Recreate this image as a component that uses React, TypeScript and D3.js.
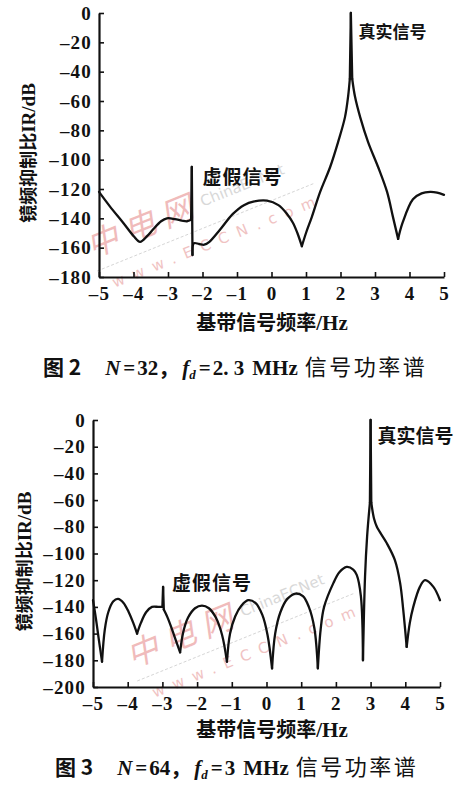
import { useEffect, useRef } from "react";
import * as d3 from "d3";

type Pt = [number, number];

// x ticks shared by both panels
const freqTicks = [-5, -4, -3, -2, -1, 0, 1, 2, 3, 4, 5];
const fig2DbTicks = [0, -20, -40, -60, -80, -100, -120, -140, -160, -180];
const fig3DbTicks = [0, -20, -40, -60, -80, -100, -120, -140, -160, -180, -200];

// 图2 N=32, fd=2.3MHz — split at cusps / spikes
const fig2Segments: Pt[][] = [
  [[-5, -122], [-4.68, -132], [-4.3, -143], [-4.0, -152], [-3.81, -156], [-3.6, -152], [-3.43, -147.5], [-3.2, -142], [-3.03, -140], [-2.8, -140.5], [-2.6, -141.5], [-2.45, -142], [-2.33, -141]],
  [[-2.33, -141], [-2.31, -105]],
  [[-2.31, -105], [-2.29, -165]],
  [[-2.29, -165], [-2.25, -157], [-2.1, -157.5], [-1.95, -158], [-1.8, -156], [-1.5, -148], [-1.12, -137], [-0.8, -131], [-0.5, -128.5], [-0.13, -128], [0.2, -131], [0.45, -137], [0.62, -143], [0.75, -150], [0.88, -159]],
  [[0.88, -159], [1.0, -150], [1.17, -139], [1.41, -122], [1.7, -105], [1.93, -88], [2.13, -71], [2.22, -57], [2.27, -45]],
  [[2.27, -45], [2.3, 0]],
  [[2.3, 0], [2.34, -45]],
  [[2.34, -45], [2.42, -57], [2.57, -71], [2.8, -88], [3.09, -105], [3.35, -122], [3.52, -139], [3.67, -154]],
  [[3.67, -154], [3.8, -143], [4.1, -127], [4.35, -123], [4.6, -122], [4.8, -122.5], [5, -124]],
];

// 图3 N=64, fd=3MHz
const fig3Segments: Pt[][] = [
  [[-5, -135], [-4.92, -148], [-4.84, -163], [-4.74, -181]],
  [[-4.74, -181], [-4.66, -157], [-4.56, -144], [-4.42, -136], [-4.28, -134], [-4.12, -137], [-3.97, -144], [-3.84, -152], [-3.73, -160]],
  [[-3.73, -160], [-3.62, -152], [-3.47, -144], [-3.3, -140], [-3.12, -140], [-3.0, -140]],
  [[-3.0, -140], [-2.98, -125]],
  [[-2.98, -125], [-2.96, -142]],
  [[-2.96, -142], [-2.85, -148], [-2.72, -157], [-2.6, -166], [-2.49, -174]],
  [[-2.49, -174], [-2.4, -159], [-2.26, -148], [-2.06, -141], [-1.86, -139], [-1.66, -141], [-1.46, -148], [-1.28, -161], [-1.14, -181]],
  [[-1.14, -181], [-1.05, -160], [-0.9, -147], [-0.72, -139], [-0.53, -135], [-0.32, -137], [-0.12, -146], [0.03, -161], [0.16, -186]],
  [[0.16, -186], [0.25, -160], [0.4, -144], [0.6, -134], [0.84, -130], [1.05, -132], [1.22, -140], [1.38, -156], [1.48, -186]],
  [[1.48, -186], [1.56, -157], [1.66, -140], [1.93, -122], [2.1, -114], [2.31, -110], [2.5, -112], [2.6, -116], [2.72, -132], [2.78, -180]],
  [[2.78, -180], [2.84, -117], [2.9, -87], [2.98, -62]],
  [[2.98, -62], [3.0, 0]],
  [[3.0, 0], [3.02, -62]],
  [[3.02, -62], [3.1, -74], [3.18, -80], [3.46, -92], [3.7, -105], [3.85, -122], [3.94, -142], [4.04, -170]],
  [[4.04, -170], [4.13, -152], [4.23, -140], [4.42, -125], [4.57, -120], [4.81, -125], [5, -135]],
];

const SERIF = "'Liberation Serif', 'DejaVu Serif', serif";
const CJK = "'Noto Sans CJK SC', sans-serif";

interface PanelCfg {
  segments: Pt[][];
  dbTicks: number[];
  dbMin: number;
  xRange: [number, number];
  yRange: [number, number];
  yTitleX: number;
  xTitleY: number;
  captionX: number;
  captionY: number;
  fig: string;
  n: string;
  fd: string;
  real: { f: number; db: number };
  fake: { f: number; db: number };
  realSize: number;
  wmark: [number, number];
}

const panels: PanelCfg[] = [
  {
    segments: fig2Segments,
    dbTicks: fig2DbTicks,
    dbMin: -180,
    xRange: [99, 444],
    yRange: [13, 277],
    yTitleX: 29,
    xTitleY: 330,
    captionX: 43,
    captionY: 375,
    fig: "图 2",
    n: "32",
    fd: "2. 3",
    real: { f: 2.52, db: -13 },
    fake: { f: -2.0, db: -112 },
    realSize: 17,
    wmark: [92, 258],
  },
  {
    segments: fig3Segments,
    dbTicks: fig3DbTicks,
    dbMin: -200,
    xRange: [93, 440],
    yRange: [420, 687],
    yTitleX: 25,
    xTitleY: 737,
    captionX: 55,
    captionY: 775,
    fig: "图 3",
    n: "64",
    fd: "3",
    real: { f: 3.2, db: -12 },
    fake: { f: -2.72, db: -122 },
    realSize: 19,
    wmark: [132, 668],
  },
];

function drawPanel(svg: d3.Selection<SVGSVGElement, unknown, null, undefined>, p: PanelCfg) {
  const x = d3.scaleLinear().domain([-5, 5]).range(p.xRange);
  const y = d3.scaleLinear().domain([0, p.dbMin]).range(p.yRange);
  const g = svg.append("g");

  // faint watermark
  const wm = g.append("g").attr("transform", `translate(${p.wmark[0]},${p.wmark[1]}) rotate(-22)`).attr("opacity", 0.45);
  wm.append("text").attr("fill", "#e06a6a").style("font-family", CJK).style("font-size", "32px").style("font-style", "italic").style("letter-spacing", "8px").text("中电网");
  wm.append("text").attr("x", 122).attr("y", -6).attr("fill", "#aaa").style("font-family", "'DejaVu Sans', sans-serif").style("font-size", "15px").text("ChinaECNet");
  wm.append("text").attr("x", 10).attr("y", 36).attr("fill", "#e07a7a").style("font-family", "'DejaVu Sans', sans-serif").style("font-size", "15px").style("letter-spacing", "9px").text("www.ECCN.com");
  wm.append("line").attr("x1", 0).attr("y1", 14).attr("x2", 235).attr("y2", 14).attr("stroke", "#999").attr("stroke-width", 0.8).attr("stroke-dasharray", "3,2");

  const fmt = (d: d3.NumberValue) => (+d < 0 ? "–" + Math.abs(+d) : String(d));

  const yAxis = g
    .append("g")
    .attr("transform", `translate(${p.xRange[0]},0)`)
    .call(d3.axisLeft(y).tickValues(p.dbTicks).tickSize(-5).tickSizeOuter(0).tickPadding(7).tickFormat(fmt));
  const xAxis = g
    .append("g")
    .attr("transform", `translate(0,${p.yRange[1]})`)
    .call(d3.axisBottom(x).tickValues(freqTicks).tickSize(-5).tickSizeOuter(0).tickPadding(10).tickFormat(fmt));

  [yAxis, xAxis].forEach((a) => {
    a.select(".domain").attr("stroke", "#111").attr("stroke-width", 2.2);
    a.selectAll(".tick line").attr("stroke", "#111").attr("stroke-width", 1.6);
    a.selectAll(".tick text")
      .attr("fill", "#111")
      .style("font-family", SERIF)
      .style("font-weight", "bold")
      .style("font-size", "19px")
      .style("letter-spacing", "1.2px");
  });

  const line = d3
    .line<Pt>()
    .x((d) => x(d[0]))
    .y((d) => y(d[1]))
    .curve(d3.curveCatmullRom.alpha(0.5));

  g.append("g")
    .selectAll("path")
    .data(p.segments)
    .join("path")
    .attr("fill", "none")
    .attr("stroke", "#111")
    .attr("stroke-width", 2.3)
    .attr("stroke-linejoin", "round")
    .attr("stroke-linecap", "round")
    .attr("d", line);

  // annotations
  g.append("text")
    .attr("x", x(p.real.f))
    .attr("y", y(p.real.db))
    .attr("dy", "0.35em")
    .attr("fill", "#111")
    .style("font-family", CJK)
    .style("font-weight", "bold")
    .style("font-size", `${p.realSize}px`)
    .text("真实信号");
  g.append("text")
    .attr("x", x(p.fake.f))
    .attr("y", y(p.fake.db))
    .attr("dy", "0.35em")
    .attr("fill", "#111")
    .style("font-family", CJK)
    .style("font-weight", "bold")
    .style("font-size", "19px")
    .style("letter-spacing", "1px")
    .text("虚假信号");

  // y title
  const midY = (p.yRange[0] + p.yRange[1]) / 2 + 8;
  const yt = g
    .append("text")
    .attr("transform", `translate(${p.yTitleX},${midY}) rotate(-90)`)
    .attr("text-anchor", "middle")
    .attr("dy", "0.35em")
    .attr("fill", "#111")
    .style("font-weight", "bold")
    .style("font-size", "18px");
  yt.append("tspan").style("font-family", CJK).text("镜频抑制比");
  yt.append("tspan").style("font-family", SERIF).style("font-size", "19px").text("IR/dB");

  // x title
  const xt = g
    .append("text")
    .attr("x", 272)
    .attr("y", p.xTitleY)
    .attr("text-anchor", "middle")
    .attr("fill", "#111")
    .style("font-weight", "bold")
    .style("font-size", "20px");
  xt.append("tspan").style("font-family", CJK).text("基带信号频率");
  xt.append("tspan").style("font-family", SERIF).style("font-size", "21px").text("/Hz");

  // caption
  const cap = g
    .append("text")
    .attr("x", p.captionX)
    .attr("y", p.captionY)
    .attr("fill", "#111")
    .style("font-size", "21px")
    .style("font-weight", "bold");
  cap.append("tspan").style("font-family", CJK).text(p.fig);
  cap.append("tspan").attr("dx", 24).style("font-family", SERIF).style("font-style", "italic").text("N");
  cap.append("tspan").attr("dx", 3).style("font-family", SERIF).text("=");
  cap.append("tspan").attr("dx", 2).style("font-family", SERIF).text(p.n);
  cap.append("tspan").style("font-family", CJK).text("，");
  cap.append("tspan").attr("dx", 3).style("font-family", SERIF).style("font-style", "italic").text("f");
  cap.append("tspan").attr("dy", 4).style("font-family", SERIF).style("font-style", "italic").style("font-size", "13px").text("d");
  cap.append("tspan").attr("dy", -4).attr("dx", 3).style("font-family", SERIF).text("=");
  cap.append("tspan").attr("dx", 2).style("font-family", SERIF).text(p.fd);
  cap.append("tspan").attr("dx", 8).style("font-family", SERIF).text("MHz");
  cap.append("tspan").attr("dx", 7).style("font-family", CJK).style("font-weight", "normal").style("letter-spacing", "2.5px").style("font-size", "22px").text("信号功率谱");
}

export default function App() {
  const svgRef = useRef<SVGSVGElement | null>(null);

  useEffect(() => {
    if (!svgRef.current) return;
    const svg = d3.select(svgRef.current);
    svg.selectAll("*").remove();
    panels.forEach((p) => drawPanel(svg, p));
  }, []);

  return (
    <svg
      ref={svgRef}
      width={467}
      height={800}
      style={{ position: "absolute", left: 0, top: 0, background: "#fff" }}
    />
  );
}
